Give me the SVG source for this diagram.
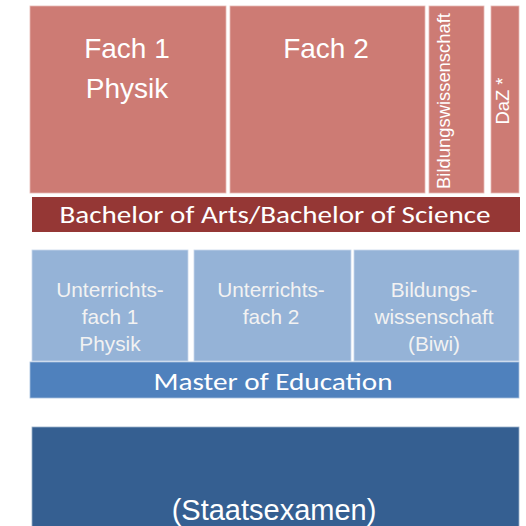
<svg xmlns="http://www.w3.org/2000/svg" width="526" height="526" viewBox="0 0 526 526">
<style>
.ba{fill:#CD7B74;stroke:#E6B9B5;stroke-width:0.8}
.bb{fill:#953735}
.lb{fill:#95B3D7;stroke:#C8D8EB;stroke-width:0.8}
.mb{fill:#4F81BD;stroke:#A7C0DE;stroke-width:0.8}
.sb{fill:#355F91;stroke:#9AAFC8;stroke-width:0.8}
.t{font-family:"Liberation Sans",Arial,sans-serif;fill:#FFFFFF;text-anchor:middle}
.tl{font-family:"Liberation Sans",Arial,sans-serif;fill:#F2F2F2;text-anchor:middle;font-size:20.8px}
.c{font-family:Carlito,Calibri,"Open Sans",sans-serif;fill:#FFFFFF;text-anchor:middle;font-size:25px}
</style>
<rect width="526" height="526" fill="#FFFFFF"/>
<g id="fach1"><rect class="ba" x="30" y="6" width="196" height="187"/><text class="t" x="127" y="58" font-size="28">Fach 1</text><text class="t" x="127" y="98" font-size="28">Physik</text></g>
<g id="fach2"><rect class="ba" x="230" y="6" width="195" height="187"/><text class="t" x="326" y="58" font-size="28">Fach 2</text></g>
<g id="biwi"><rect class="ba" x="429" y="6" width="55" height="187"/><text class="t" font-size="18.4" transform="translate(450,101) rotate(-90)">Bildungswissenschaft</text></g>
<g id="daz"><rect class="ba" x="491" y="6" width="28" height="187"/><text class="t" font-size="18.4" transform="translate(509,101) rotate(-90)">DaZ *</text></g>
<g id="bachelor"><rect class="bb" x="32" y="197" width="488" height="35"/><text class="c" x="275" y="223" textLength="431" lengthAdjust="spacingAndGlyphs">Bachelor of Arts/Bachelor of Science</text></g>
<g id="uf1"><rect class="lb" x="32" y="250" width="156" height="111"/><text class="tl" x="110" y="297">Unterrichts-</text><text class="tl" x="110" y="324">fach 1</text><text class="tl" x="110" y="351">Physik</text></g>
<g id="uf2"><rect class="lb" x="194" y="250" width="157" height="111"/><text class="tl" x="271" y="297">Unterrichts-</text><text class="tl" x="271" y="324">fach 2</text></g>
<g id="biwi2"><rect class="lb" x="354" y="250" width="165" height="111"/><text class="tl" x="434" y="297">Bildungs-</text><text class="tl" x="434" y="324">wissenschaft</text><text class="tl" x="434" y="351">(Biwi)</text></g>
<g id="master"><rect class="mb" x="30" y="362" width="489" height="36"/><text class="c" x="273" y="390" textLength="239" lengthAdjust="spacingAndGlyphs">Master of Education</text></g>
<g id="staats"><rect class="sb" x="32" y="427" width="487" height="110"/><text class="t" x="274" y="520" font-size="29">(Staatsexamen)</text></g>
<g id="connectors"></g>
</svg>
